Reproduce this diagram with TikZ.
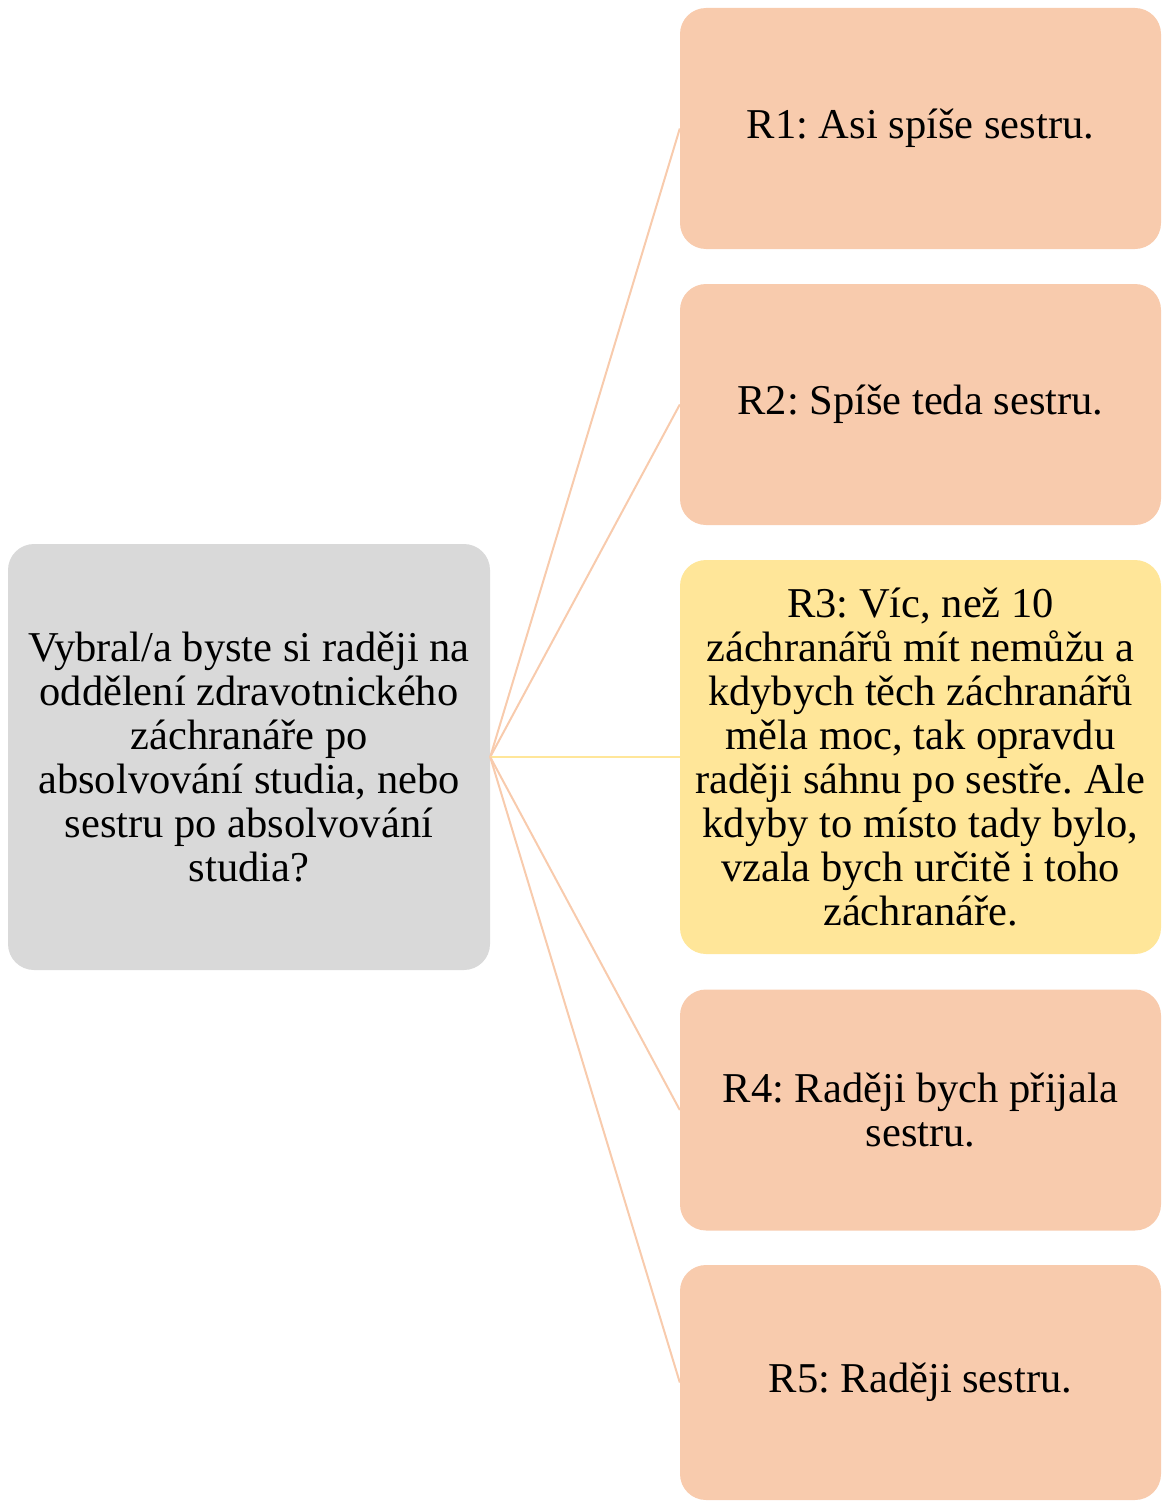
\documentclass[tikz,border=0pt]{standalone}
\usepackage{fontspec}
\setmainfont{Liberation Serif}
\definecolor{peach}{HTML}{F8CBAD}
\definecolor{gold}{HTML}{FFE699}
\definecolor{greybox}{HTML}{D9D9D9}
\begin{document}
\frenchspacing
\begin{tikzpicture}[x=1pt,y=-1pt,
  box/.style={rounded corners=26pt,align=center,inner sep=0pt,font=\fontsize{42.5}{44}\selectfont},
  ans/.style={box,fill=peach,minimum width=481pt,minimum height=241pt},
  link/.style={line width=2pt}]
\useasboundingbox (0,0) rectangle (1162,1501);
\node[box,fill=greybox,minimum width=482pt,minimum height=426pt] (q) at (249,757)
  {Vybral/a byste si raději na\\oddělení zdravotnického\\záchranáře po\\absolvování studia, nebo\\sestru po absolvování\\studia?};
\node[ans] (r1) at (920.5,128.5) {R1: Asi spíše sestru.};
\node[ans] (r2) at (920.5,404.5) {R2: Spíše teda sestru.};
\node[ans,fill=gold,minimum height=394pt] (r3) at (920.5,757) {R3: Víc, než 10\\záchranářů mít nemůžu a\\kdybych těch záchranářů\\měla moc, tak opravdu\\raději sáhnu po sestře. Ale\\kdyby to místo tady bylo,\\vzala bych určitě i toho\\záchranáře.};
\node[ans] (r4) at (920.5,1110) {R4: Raději bych přijala\\sestru.};
\node[ans,minimum height=235pt] (r5) at (920.5,1382.5) {R5: Raději sestru.};
\draw[link,peach] (q.east) -- (r1.west);
\draw[link,peach] (q.east) -- (r2.west);
\draw[link,gold] (q.east) -- (r3.west);
\draw[link,peach] (q.east) -- (r4.west);
\draw[link,peach] (q.east) -- (r5.west);
\end{tikzpicture}
\end{document}
